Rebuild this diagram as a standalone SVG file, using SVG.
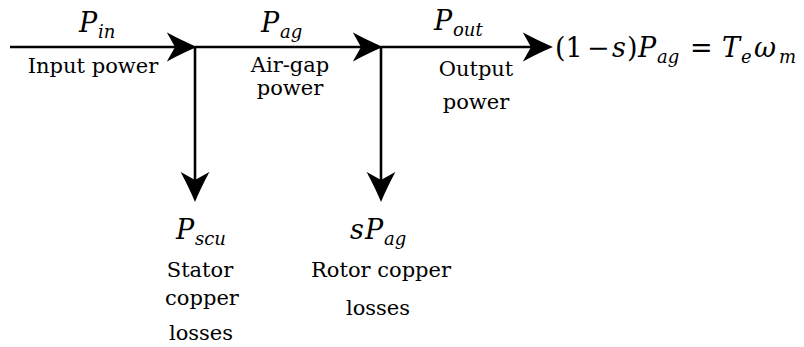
<svg xmlns="http://www.w3.org/2000/svg" width="804" height="347" viewBox="0 0 804 347">
  <style>
    .ln { stroke: #000; stroke-width: 2.6; fill: none; }
    text { font-family: "DejaVu Serif", "Liberation Serif", serif; fill: #000; }
    .lbl { font-size: 21px; }
    .sm { font-size: 21px; }
    .m { font-size: 27px; font-style: italic; }
    .up { font-style: normal; }
    .sub { font-size: 18px; }
  </style>
  <defs>
    <marker id="ah" markerUnits="userSpaceOnUse" markerWidth="30" markerHeight="30" viewBox="0 -13 26 26" refX="7" refY="0" orient="auto">
      <path d="M0,-12.5 Q14,-5 26,0 Q14,5 0,12.5 L7,0 Z" fill="#000"/>
    </marker>
  </defs>
  <rect width="804" height="347" fill="#fff"/>
  <g id="connectors">
    <path class="ln" d="M10,47 H175" marker-end="url(#ah)"/>
    <path class="ln" d="M195,47 H361" marker-end="url(#ah)"/>
    <path class="ln" d="M381,47 H531" marker-end="url(#ah)"/>
    <path class="ln" d="M195,47 V180" marker-end="url(#ah)"/>
    <path class="ln" d="M381,47 V180" marker-end="url(#ah)"/>
  </g>
  <g id="input">
    <text class="m" x="79" y="32">P<tspan class="sub" x="98" y="38">in</tspan></text>
    <text class="lbl" x="93" y="73" text-anchor="middle">Input power</text>
  </g>
  <g id="airgap">
    <text class="m" x="261" y="32">P<tspan class="sub" x="280" y="38">ag</tspan></text>
    <text class="lbl" x="290" y="72" text-anchor="middle">Air-gap</text>
    <text class="lbl" x="290" y="95" text-anchor="middle">power</text>
  </g>
  <g id="output">
    <text class="m" x="434" y="30">P<tspan class="sub" x="453" y="36">out</tspan></text>
    <text class="lbl" x="476" y="76" text-anchor="middle">Output</text>
    <text class="lbl" x="476" y="109" text-anchor="middle">power</text>
  </g>
  <g id="result">
    <text class="m" y="57"><tspan class="up" x="555">(1</tspan><tspan class="up" x="587">−</tspan><tspan x="612">s</tspan><tspan class="up" x="627">)</tspan><tspan x="638">P</tspan><tspan class="sub" x="657" y="63">ag</tspan><tspan class="up" x="690" y="57">=</tspan><tspan x="722">T</tspan><tspan class="sub" x="741" y="63">e</tspan><tspan x="754" y="57">ω</tspan><tspan class="sub" x="779" y="63">m</tspan></text>
  </g>
  <g id="stator-losses">
    <text class="m" x="176" y="239">P<tspan class="sub" x="195" y="245">scu</tspan></text>
    <text class="sm" x="200" y="277" text-anchor="middle">Stator</text>
    <text class="sm" x="202" y="305" text-anchor="middle">copper</text>
    <text class="sm" x="201" y="340" text-anchor="middle">losses</text>
  </g>
  <g id="rotor-losses">
    <text class="m" x="350" y="239">s<tspan x="365">P</tspan><tspan class="sub" x="384" y="245">ag</tspan></text>
    <text class="sm" x="381" y="277" text-anchor="middle">Rotor copper</text>
    <text class="sm" x="378" y="315" text-anchor="middle">losses</text>
  </g>
</svg>
